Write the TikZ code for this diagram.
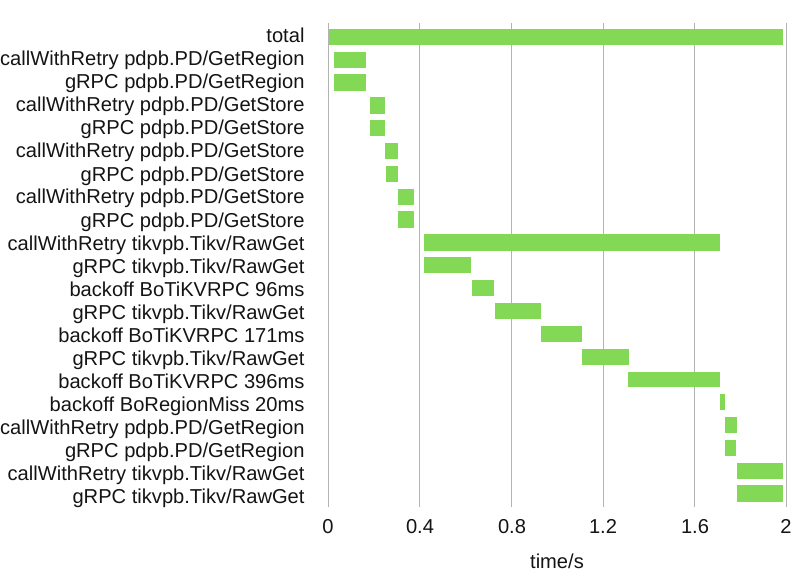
\documentclass[tikz,border=0pt]{standalone}
\usepackage{fontspec}
\setmainfont{Liberation Sans}
\definecolor{barGreen}{RGB}{131,217,85}
\definecolor{gridGray}{RGB}{179,179,179}
\definecolor{textBlack}{RGB}{20,20,20}
\tikzset{every picture/.style={line width=0.75pt},
  gridline/.style={draw=gridGray,line width=0.75pt},
  timebar/.style={fill=barGreen},
  rowlabel/.style={anchor=base east,inner sep=0pt,text=textBlack,font=\fontsize{15.1}{17}\selectfont},
  ticklabel/.style={anchor=base,inner sep=0pt,text=textBlack,font=\fontsize{15.1}{17}\selectfont}}
\begin{document}
\begin{tikzpicture}[x=0.75pt,y=0.75pt,yscale=-1,xscale=1]
\useasboundingbox (0,0) rectangle (792,574);

%Grid Lines
\draw [gridline] (328.3,23) -- (328.3,506.5);
\draw [gridline] (419.5,23) -- (419.5,506.5);
\draw [gridline] (511.3,23) -- (511.3,506.5);
\draw [gridline] (603.3,23) -- (603.3,506.5);
\draw [gridline] (694.5,23) -- (694.5,506.5);
\draw [gridline] (786.3,23) -- (786.3,506.5);

%Bars
\fill [timebar] (329,29) rectangle (783,45);
\fill [timebar] (334,52) rectangle (366,68);
\fill [timebar] (334,74) rectangle (366,91);
\fill [timebar] (370,97) rectangle (385,114);
\fill [timebar] (370,120) rectangle (385,136);
\fill [timebar] (385,143) rectangle (398,159);
\fill [timebar] (386,166) rectangle (398,182);
\fill [timebar] (398,189) rectangle (414,205);
\fill [timebar] (398,211) rectangle (414,228);
\fill [timebar] (424,234) rectangle (720,251);
\fill [timebar] (424,257) rectangle (471,273);
\fill [timebar] (472,280) rectangle (494,296);
\fill [timebar] (495,303) rectangle (541,319);
\fill [timebar] (541,326) rectangle (582,342);
\fill [timebar] (582,349) rectangle (629,365);
\fill [timebar] (628,372) rectangle (720,387);
\fill [timebar] (720,394) rectangle (725,410);
\fill [timebar] (725,417) rectangle (737,433);
\fill [timebar] (725,440) rectangle (736,456);
\fill [timebar] (737,463) rectangle (783,479);
\fill [timebar] (737,485) rectangle (783,502);

% Text Node
\draw (305,43) node (row1) [rowlabel] {total};
\draw (305,66) node (row2) [rowlabel] {callWithRetry pdpb.PD/GetRegion};
\draw (305,89) node (row3) [rowlabel] {gRPC pdpb.PD/GetRegion};
\draw (305,112) node (row4) [rowlabel] {callWithRetry pdpb.PD/GetStore};
\draw (305,135) node (row5) [rowlabel] {gRPC pdpb.PD/GetStore};
\draw (305,158) node (row6) [rowlabel] {callWithRetry pdpb.PD/GetStore};
\draw (305,181) node (row7) [rowlabel] {gRPC pdpb.PD/GetStore};
\draw (305,204) node (row8) [rowlabel] {callWithRetry pdpb.PD/GetStore};
\draw (305,227) node (row9) [rowlabel] {gRPC pdpb.PD/GetStore};
\draw (305,250) node (row10) [rowlabel] {callWithRetry tikvpb.Tikv/RawGet};
\draw (305,273) node (row11) [rowlabel] {gRPC tikvpb.Tikv/RawGet};
\draw (305,296) node (row12) [rowlabel] {backoff BoTiKVRPC 96ms};
\draw (305,319) node (row13) [rowlabel] {gRPC tikvpb.Tikv/RawGet};
\draw (305,342) node (row14) [rowlabel] {backoff BoTiKVRPC 171ms};
\draw (305,365) node (row15) [rowlabel] {gRPC tikvpb.Tikv/RawGet};
\draw (305,388) node (row16) [rowlabel] {backoff BoTiKVRPC 396ms};
\draw (305,411) node (row17) [rowlabel] {backoff BoRegionMiss 20ms};
\draw (305,434) node (row18) [rowlabel] {callWithRetry pdpb.PD/GetRegion};
\draw (305,457) node (row19) [rowlabel] {gRPC pdpb.PD/GetRegion};
\draw (305,480) node (row20) [rowlabel] {callWithRetry tikvpb.Tikv/RawGet};
\draw (305,503) node (row21) [rowlabel] {gRPC tikvpb.Tikv/RawGet};
% Text Node
\draw (328,533) node (tick0) [ticklabel] {0};
\draw (420,533) node (tick1) [ticklabel] {0.4};
\draw (512,533) node (tick2) [ticklabel] {0.8};
\draw (603,533) node (tick3) [ticklabel] {1.2};
\draw (695,533) node (tick4) [ticklabel] {1.6};
\draw (786,533) node (tick5) [ticklabel] {2};
\draw (557,568) node (axistitle) [ticklabel] {time/s};

\end{tikzpicture}
\end{document}
